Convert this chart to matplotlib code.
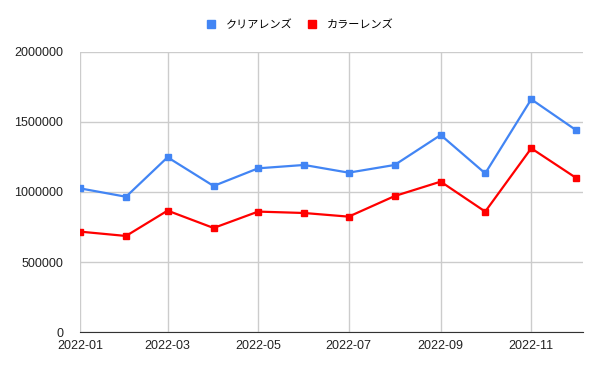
import datetime as dt
import matplotlib
matplotlib.use('Agg')
import matplotlib.pyplot as plt
import matplotlib.dates as mdates
from matplotlib.ticker import FixedLocator, FuncFormatter

plt.rcParams['font.family'] = ['Liberation Sans', 'Noto Sans CJK JP', 'DejaVu Sans']

months = [dt.date(2022, m, 1) for m in range(1, 13)]
clear_lens = [1026000, 966000, 1248000, 1043000, 1169000, 1193000,
              1138000, 1193000, 1407000, 1133000, 1662000, 1443000]
color_lens = [717000, 686000, 867000, 743000, 860000, 850000,
              824000, 971000, 1074000, 860000, 1312000, 1102000]
labels = ['クリアレンズ', 'カラーレンズ']
y_ticks = [0, 500000, 1000000, 1500000, 2000000]

fig = plt.figure(figsize=(6, 3.71), dpi=100)
ax = fig.add_axes([0.1333, 0.105, 0.8387, 0.755])

ax.plot(months, clear_lens, color='#4285F4', lw=1.6, marker='s', ms=5, label=labels[0])
ax.plot(months, color_lens, color='#FF0000', lw=1.6, marker='s', ms=5, label=labels[1])

ax.set_ylim(0, 2000000)
ax.set_xlim(dt.date(2022, 1, 1), dt.date(2022, 12, 6))
ax.yaxis.set_major_locator(FixedLocator(y_ticks))
ax.yaxis.set_major_formatter(FuncFormatter(lambda v, p: '%d' % v))
ax.xaxis.set_major_locator(mdates.MonthLocator(bymonth=[1, 3, 5, 7, 9, 11]))
ax.xaxis.set_major_formatter(mdates.DateFormatter('%Y-%m'))

ax.grid(True, color='#cccccc', lw=1)
ax.set_axisbelow(True)
for s in ['top', 'right', 'left']:
    ax.spines[s].set_visible(False)
ax.spines['bottom'].set_color('#333333')
ax.tick_params(length=0, labelsize=9, colors='#222222')
ax.tick_params(axis='y', pad=12)
ax.tick_params(axis='x', pad=6)

# legend centred on the figure, not the axes
leg = fig.legend(loc='center', bbox_to_anchor=(0.5, 0.933), ncol=2, frameon=False,
                 handlelength=0.8, handletextpad=0.9, columnspacing=1.4,
                 prop={'family': ['Noto Sans CJK JP'], 'size': 8})
for h in leg.get_lines():
    h.set_linestyle('none')
    h.set_markersize(6)

fig.savefig('out.png', dpi=100)
